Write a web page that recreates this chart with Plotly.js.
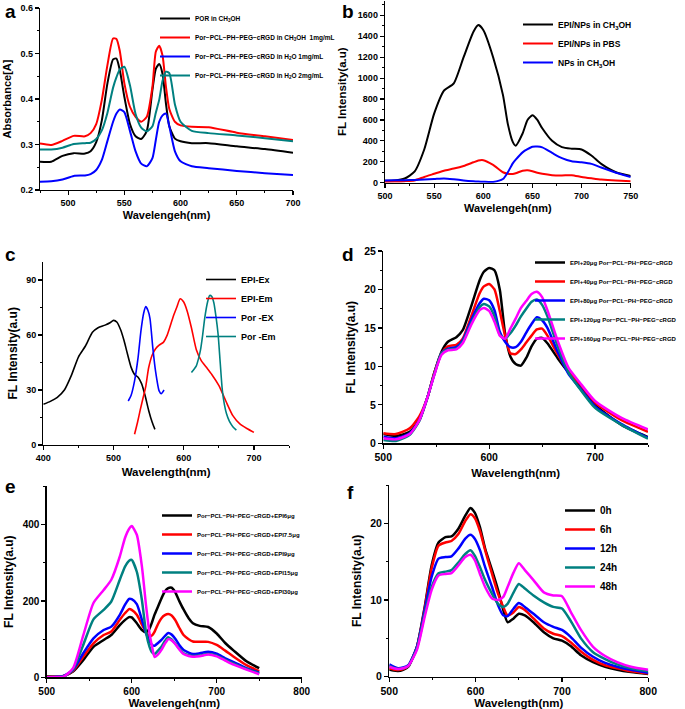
<!DOCTYPE html>
<html>
<head>
<meta charset="utf-8">
<script src="https://cdn.plot.ly/plotly-3.0.1.min.js"></script>
<style>html,body{margin:0;padding:0;background:#fff;}#chart{width:685px;height:709px;}</style>
</head>
<body>
<div id="chart"></div>
<script>
// ---------- Panel a : absorbance ----------
const aWl = [475,485,495,505,515,520,525,530,535,540,543,546,550,555,560,565,570,575,578,581,584,587,590,595,600,610,625,650,675,700];
const aPor = [0.262,0.262,0.275,0.281,0.280,0.285,0.305,0.353,0.435,0.487,0.489,0.463,0.405,0.345,0.318,0.312,0.330,0.420,0.466,0.477,0.455,0.390,0.340,0.313,0.307,0.303,0.303,0.296,0.290,0.282];
const aCh3oh1 = [0.302,0.299,0.308,0.319,0.318,0.325,0.345,0.398,0.475,0.533,0.532,0.505,0.435,0.383,0.361,0.350,0.361,0.427,0.504,0.517,0.495,0.427,0.378,0.350,0.342,0.339,0.338,0.326,0.318,0.310];
const aH2o1 = [0.218,0.219,0.223,0.231,0.232,0.235,0.244,0.266,0.308,0.350,0.368,0.377,0.371,0.330,0.285,0.258,0.252,0.270,0.310,0.350,0.364,0.368,0.340,0.285,0.263,0.252,0.248,0.242,0.237,0.233];
const aH2o2 = [0.289,0.289,0.293,0.301,0.303,0.304,0.312,0.331,0.370,0.425,0.448,0.465,0.471,0.430,0.367,0.337,0.329,0.340,0.370,0.398,0.440,0.460,0.457,0.388,0.350,0.330,0.325,0.320,0.314,0.307];
const aNames = ['POR in CH<sub>3</sub>OH','Por\u2212PCL\u2212PH\u2212PEG\u2212cRGD in CH<sub>3</sub>OH  1mg/mL','Por\u2212PCL\u2212PH\u2212PEG\u2212cRGD in H<sub>2</sub>O 1mg/mL','Por\u2212PCL\u2212PH\u2212PEG\u2212cRGD in H<sub>2</sub>O 2mg/mL'];

// ---------- Panel b ----------
const bWl = [500,510,520,530,540,550,560,570,580,590,595,600,610,620,625,630,633,640,645,650,655,660,670,680,690,700,710,720,735,750];
const bEpiCh3oh = [19,22,40,105,320,660,880,950,1200,1444,1507,1460,1200,840,560,390,354,470,600,644,600,520,400,340,325,318,260,180,100,65];
const bEpiPbs = [10,12,15,22,55,85,115,135,160,195,212,215,170,100,85,83,90,115,120,110,95,85,72,70,72,55,42,30,20,15];
const bNpsCh3oh = [22,23,24,26,30,35,41,33,22,14,11,9,7,35,100,185,220,290,320,344,346,338,285,235,205,195,180,145,95,55];
const bNames = ['EPI/NPs in CH<sub>3</sub>OH','EPI/NPs in PBS','NPs in CH<sub>3</sub>OH'];

// ---------- Panel c ----------
const cEpiExWl = [400,410,420,430,440,450,460,470,478,488,495,500,505,510,515,520,525,530,535,540,545,550,555,559];
const cEpiEx = [22.2,23.8,26,30,38,48,54,61.5,64,65.4,66.7,68,67,63,57,49.5,42.5,38.5,37,33.5,27,19,12.5,8.5];
const cEpiEmWl = [530,534,538,542,546,550,555,560,565,571,576,580,585,590,595,600,605,611,618,625,632,640,650,660,670,680,690,700];
const cEpiEm = [5.9,12,19,25.5,32,42,49,52.5,54.5,56,59.5,64,70,75,79.8,78,73,64,52,46,42.5,38.5,32.5,24,16,11.5,9,6.9];
const cPorExWl = [521,525,530,535,539,543,546,549,552,556,560,565,568,572];
const cPorEx = [24,27,35,47.7,62,72,75.5,73.5,69,53,40,29.5,28,30];
const cPorEmWl = [611,615,618,621,624,627,630,634,637,640,643,646,649,652,655,658,661,665,670,675];
const cPorEm = [39.6,41.5,43.2,47,52,60,69.4,78,81.6,81,77.5,70,60.4,45,30,22,17,13,10,8.1];
const cNames = ['EPI-Ex','EPI-Em','Por -EX','Por -Em'];

// ---------- Panel d ----------
const dWl = [500,512,525,534,542,548,555,561,569,575,583,591,595,600,605,610,615,620,625,630,635,640,645,650,655,665,675,685,700,725,750];
const d20 = [1.2,0.95,1.5,3.0,6.1,9.1,11.9,13.2,13.8,14.7,17.8,21.2,22.3,22.8,22.5,20.0,14.3,11.3,10.3,10.1,11.1,12.6,13.6,13.7,13.0,11.0,9.2,7.5,5.0,2.4,0.8];
const d40 = [1.3,1.2,1.95,3.5,6.1,9.1,11.7,12.6,12.8,13.6,16.5,19.5,20.4,20.7,20.0,17.2,14.0,11.7,11.6,12.2,13.1,14.0,14.8,14.9,14.0,11.5,9.3,7.8,5.3,3.0,1.5];
const d80 = [0.87,0.65,1.3,3.0,6.1,8.9,11.7,12.3,12.5,13.4,16.0,18.2,18.8,18.6,17.3,14.5,13.2,12.5,12.5,13.2,14.4,15.5,16.4,16.0,15.0,11.8,9.0,7.3,4.8,2.5,0.7];
const d120 = [0.43,0.3,1.1,2.9,6.1,8.9,11.7,12.2,12.3,13.2,15.6,17.7,18.1,17.8,16.5,14.1,13.6,14.3,15.3,16.5,17.5,18.4,18.7,18.0,16.5,12.5,9.2,7.2,4.6,2.4,0.6];
const d160 = [0.65,0.52,1.2,3.0,6.1,8.8,11.5,12.1,12.2,13.0,15.4,17.3,17.6,17.2,15.8,14.0,13.6,14.9,16.2,17.6,18.5,19.4,19.7,19.0,17.3,13.2,9.8,8.0,5.5,3.3,1.8];
const dNames = ['EPI+20\u03bcg Por\u2212PCL\u2212PH\u2212PEG\u2212cRGD','EPI+40\u03bcg Por\u2212PCL\u2212PH\u2212PEG\u2212cRGD','EPI+80\u03bcg Por\u2212PCL\u2212PH\u2212PEG\u2212cRGD','EPI+120\u03bcg Por\u2212PCL\u2212PH\u2212PEG\u2212cRGD','EPI+160\u03bcg Por\u2212PCL\u2212PH\u2212PEG\u2212cRGD'];

// ---------- Panel e ----------
const eWl = [500,510,520,531,543,555,567,576,586,592,597,600,606,612,617,621,624,627,631,635,639,643,647,651,656,661,667,672,680,690,700,710,720,735,750];
const e6 = [2,2,3.5,15,45,80,98,111,137,150,158,157,142,124,118,128,145,165,186,207,225,234,235,224,200,178,155,142,135,132,115,90,70,42,24];
const e75 = [1,1.5,3.5,17,54,89,111,120,151,168,179,177,164,138,118,107,110,120,140,155,163,166,162,151,130,111,100,94,93,93,85,70,54,32,16];
const e9 = [0,1,3.5,19,63,102,124,133,164,190,206,205,192,151,115,95,85,83,90,98,108,116,112,102,85,72,65,61,63,67,62,50,40,24,12];
const e15 = [0,1,2,21,85,152,177,199,256,290,306,308,277,203,116,80,65,61,70,80,95,105,99,89,75,63,58,56,57,61,57,46,36,22,10];
const e30 = [0,1,2,24,110,195,229,256,317,365,390,397,374,291,186,115,80,53,60,72,88,100,97,88,73,61,56,54,55,60,55,44,33,20,8];
const eNames = ['Por\u2212PCL\u2212PH\u2212PEG\u2212cRGD+EPI6\u03bcg','Por\u2212PCL\u2212PH\u2212PEG\u2212cRGD+EPI7.5\u03bcg','Por\u2212PCL\u2212PH\u2212PEG\u2212cRGD+EPI9\u03bcg','Por\u2212PCL\u2212PH\u2212PEG\u2212cRGD+EPI15\u03bcg','Por\u2212PCL\u2212PH\u2212PEG\u2212cRGD+EPI30\u03bcg'];

// ---------- Panel f ----------
const fWl = [500,505,510,516,522,532,541,549,557,565,572,580,588,594,599,605,611,619,626,632,637,644,650,657,667,679,690,700,710,722,736,750,764,780,800];
const f0h = [0.95,0.8,0.74,0.9,1.3,3.9,9.1,14.5,17.5,18.2,18.3,19.3,21.0,22.0,21.4,19.5,16.7,13.9,11.3,8.7,7.1,7.6,8.2,8.0,7.1,5.8,5.0,4.7,4.0,2.8,1.9,1.3,0.9,0.6,0.35];
const f6h = [1.1,0.95,0.87,1.0,1.4,3.9,8.9,14.1,17.1,17.5,17.7,18.6,20.3,21.2,20.7,19.0,16.5,13.4,10.8,9.1,8.0,8.4,9.1,8.7,7.6,6.3,5.6,5.3,4.5,3.3,2.2,1.5,1.1,0.7,0.4];
const f12h = [1.6,1.3,1.1,1.2,1.5,3.9,8.7,13.0,15.4,15.6,15.7,16.7,18.0,18.5,18.0,16.5,14.3,11.7,9.3,8.0,7.9,8.9,9.6,9.1,8.2,7.1,6.5,6.1,5.2,3.8,2.6,1.8,1.3,0.9,0.5];
const f24h = [1.4,1.15,1.0,1.1,1.4,3.7,8.2,11.7,13.5,13.7,13.9,14.9,16.0,16.5,15.8,14.3,12.6,10.8,9.5,9.1,9.5,11.0,12.1,11.5,10.6,9.7,9.1,8.9,7.3,5.0,3.2,2.3,1.6,1.1,0.7];
const f48h = [1.3,1.1,1.0,1.1,1.4,3.5,7.8,11.3,13.2,13.4,13.5,14.5,15.6,15.9,15.2,13.4,11.7,10.2,10.0,10.4,11.7,13.6,14.8,13.9,12.6,11.0,10.6,10.5,8.5,6.1,3.9,2.7,1.9,1.3,0.9];
const fNames = ['0h','6h','12h','24h','48h'];

const C = {k:'#000000', r:'#ff0000', b:'#0000ff', t:'#008080', m:'#ff00ff'};
const F = 'Liberation Sans, Arial, sans-serif';

function tr(x, y, name, color, w, n, leg) {
  return {x:x, y:y, name:name, type:'scatter', mode:'lines',
    line:{color:color, width:w, shape:'spline', smoothing:0.6},
    xaxis:'x'+(n===1?'':n), yaxis:'y'+(n===1?'':n), legend:leg, hoverinfo:'skip'};
}

const data = [
  tr(aWl,aPor,aNames[0],C.k,2,1,'legend'),
  tr(aWl,aCh3oh1,aNames[1],C.r,2,1,'legend'),
  tr(aWl,aH2o1,aNames[2],C.b,2,1,'legend'),
  tr(aWl,aH2o2,aNames[3],C.t,2,1,'legend'),
  tr(bWl,bEpiCh3oh,bNames[0],C.k,2,2,'legend2'),
  tr(bWl,bEpiPbs,bNames[1],C.r,2,2,'legend2'),
  tr(bWl,bNpsCh3oh,bNames[2],C.b,2,2,'legend2'),
  tr(cEpiExWl,cEpiEx,cNames[0],C.k,1.6,3,'legend3'),
  tr(cEpiEmWl,cEpiEm,cNames[1],C.r,1.6,3,'legend3'),
  tr(cPorExWl,cPorEx,cNames[2],C.b,1.6,3,'legend3'),
  tr(cPorEmWl,cPorEm,cNames[3],C.t,1.6,3,'legend3'),
  tr(dWl,d20,dNames[0],C.k,2.5,4,'legend4'),
  tr(dWl,d40,dNames[1],C.r,2.5,4,'legend4'),
  tr(dWl,d80,dNames[2],C.b,2.5,4,'legend4'),
  tr(dWl,d120,dNames[3],C.t,2.5,4,'legend4'),
  tr(dWl,d160,dNames[4],C.m,2.5,4,'legend4'),
  tr(eWl,e6,eNames[0],C.k,2.5,5,'legend5'),
  tr(eWl,e75,eNames[1],C.r,2.5,5,'legend5'),
  tr(eWl,e9,eNames[2],C.b,2.5,5,'legend5'),
  tr(eWl,e15,eNames[3],C.t,2.5,5,'legend5'),
  tr(eWl,e30,eNames[4],C.m,2.5,5,'legend5'),
  tr(fWl,f0h,fNames[0],C.k,2.5,6,'legend6'),
  tr(fWl,f6h,fNames[1],C.r,2.5,6,'legend6'),
  tr(fWl,f12h,fNames[2],C.b,2.5,6,'legend6'),
  tr(fWl,f24h,fNames[3],C.t,2.5,6,'legend6'),
  tr(fWl,f48h,fNames[4],C.m,2.5,6,'legend6')
];

const W = 685, H = 709;
function xd(l, r) { return [l/W, r/W]; }
function yd(t, b) { return [1-b/H, 1-t/H]; }

function axis(o) {
  const a = {
    showline:true, linecolor:'#000', linewidth:1.3, mirror:false,
    ticks:'outside', ticklen:4, tickwidth:1.2, tickcolor:'#000',
    showgrid:false, zeroline:false, fixedrange:true,
    tickfont:{family:F, size:o.tfs||9, weight:'bold', color:'#000'},
    title:{text:o.title, font:{family:F, size:o.ttfs||11, weight:'bold', color:'#000'}, standoff:o.standoff},
    range:o.range, domain:o.domain, anchor:o.anchor, dtick:o.dtick, tick0:o.tick0,
    minor:{dtick:o.minor, ticks:'outside', ticklen:2, tickwidth:1, tickcolor:'#000'}
  };
  if (o.tickformat) a.tickformat = o.tickformat;
  return a;
}

function leg(xpx, ypx, fs) {
  return {x:xpx/W, y:1-ypx/H, xanchor:'left', yanchor:'top', bgcolor:'rgba(0,0,0,0)',
    borderwidth:0, font:{family:F, size:fs, weight:'bold', color:'#000'}, traceorder:'normal',
    itemclick:false, itemdoubleclick:false};
}

const letter = (t, xpx, ypx) => ({text:t, x:xpx/W, y:1-ypx/H, xref:'paper', yref:'paper',
  xanchor:'left', yanchor:'middle', showarrow:false, font:{family:F, size:19, weight:'bold', color:'#000'}});

const layout = {
  width:W, height:H, margin:{l:0,r:0,t:0,b:0}, paper_bgcolor:'#fff', plot_bgcolor:'rgba(0,0,0,0)',
  showlegend:true,
  xaxis: axis({title:'Wavelengeh(nm)', range:[475,700], domain:xd(40,293), anchor:'y', dtick:50, tick0:500, minor:25, standoff:4}),
  yaxis: axis({title:'Absorbance[A]', range:[0.2,0.6], domain:yd(8,190), anchor:'x', dtick:0.1, tick0:0.2, minor:0.05, tickformat:'.1f', standoff:6}),
  xaxis2: axis({title:'Wavelengeh(nm)', range:[500,750], domain:xd(385,630.7), anchor:'y2', dtick:50, tick0:500, minor:25, standoff:4}),
  yaxis2: axis({title:'FL Intensity(a.u)', range:[0,1740], domain:yd(0.7,182.7), anchor:'x2', dtick:200, tick0:0, minor:100, ttfs:11.5, standoff:8}),
  xaxis3: axis({title:'Wavelength(nm)', range:[400,750], domain:xd(43.3,289), anchor:'y3', dtick:100, tick0:400, minor:50, ttfs:11.5, standoff:6}),
  yaxis3: axis({title:'FL Intensity(a.u)', range:[0,100], domain:yd(261.7,445), anchor:'x3', dtick:30, tick0:0, minor:15, ttfs:12, standoff:6}),
  xaxis4: axis({title:'Wavelength(nm)', range:[500,750], domain:xd(383.3,648), anchor:'y4', dtick:100, tick0:500, minor:50, tfs:10.5, ttfs:11.5, standoff:6}),
  yaxis4: axis({title:'FL Intensity(a.u)', range:[0,25], domain:yd(251,443.3), anchor:'x4', dtick:5, tick0:0, minor:2.5, tfs:10.5, ttfs:12, standoff:6}),
  xaxis5: axis({title:'Wavelengeh(nm)', range:[500,800], domain:xd(46.7,301.7), anchor:'y5', dtick:100, tick0:500, minor:50, tfs:10, ttfs:11.5, standoff:4}),
  yaxis5: axis({title:'FL Intensity(a.u)', range:[0,502], domain:yd(486,677.3), anchor:'x5', dtick:200, tick0:0, minor:100, tfs:10, ttfs:12, standoff:6}),
  xaxis6: axis({title:'Wavelength(nm)', range:[500,800], domain:xd(389.3,648.3), anchor:'y6', dtick:100, tick0:500, minor:50, tfs:10.5, ttfs:11.5, standoff:4}),
  yaxis6: axis({title:'FL Intensity(a.u)', range:[0,25], domain:yd(485,676.7), anchor:'x6', dtick:10, tick0:0, minor:5, tfs:10.5, ttfs:12, standoff:6}),
  legend: leg(155, 4, 6.5),
  legend2: leg(518, 10, 8.5),
  legend3: leg(201, 265, 9),
  legend4: leg(530, 248, 6),
  legend5: leg(157, 501, 6),
  legend6: leg(560, 496, 10),
  annotations:[letter('a',3,12), letter('b',340,12), letter('c',3,254), letter('d',340,254), letter('e',3,486), letter('f',345,492)]
};

Plotly.newPlot('chart', data, layout, {staticPlot:true, displayModeBar:false});
</script>
</body>
</html>
